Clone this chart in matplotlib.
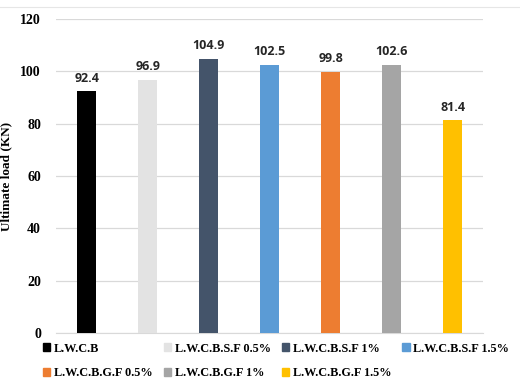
import numpy as np
from matplotlib import pyplot as plt
from matplotlib.lines import Line2D

mixes = [
    "L.W.C.B",
    "L.W.C.B.S.F 0.5%",
    "L.W.C.B.S.F 1%",
    "L.W.C.B.S.F 1.5%",
    "L.W.C.B.G.F 0.5%",
    "L.W.C.B.G.F 1%",
    "L.W.C.B.G.F 1.5%",
]
loads = [92.4, 96.9, 104.9, 102.5, 99.8, 102.6, 81.4]
colors = ["#000000", "#e3e3e3", "#44546a", "#5b9bd5", "#ed7d31", "#a5a5a5", "#ffc000"]
y_ticks = [0, 20, 40, 60, 80, 100, 120]

serif = "Liberation Serif"

fig = plt.figure(figsize=(5.2, 3.82), dpi=100)
ax = fig.add_axes([0.108, 0.128, 0.821, 0.822])

x = np.arange(len(mixes))
bars = ax.bar(x, loads, width=0.31, color=colors, zorder=3)
for b, v in zip(bars, loads):
    ax.text(b.get_x() + b.get_width() / 2, v + 2.5, f"{v:.1f}",
            ha="center", va="bottom", fontsize=9, fontweight="bold",
            family="Open Sans", color="#262626")

ax.set_xlim(-0.5, len(mixes) - 0.5)
ax.set_ylim(0, 120)
ax.set_yticks(y_ticks)
ax.set_yticklabels([str(t) for t in y_ticks], family=serif,
                   fontweight="bold", fontsize=10)
ax.set_xticks([])
ax.tick_params(axis="y", length=0, pad=11)
ax.grid(axis="y", color="#d9d9d9", linewidth=0.9, zorder=0)
for side in ["top", "right", "left"]:
    ax.spines[side].set_visible(False)
ax.spines["bottom"].set_color("#d9d9d9")
ax.set_ylabel("Ultimate load (KN)", family=serif, fontweight="bold",
              fontsize=9.5, labelpad=6)

# frame line along the top of the chart area
fig.add_artist(Line2D([0, 1], [0.982, 0.982], color="#e6e6e6",
                      linewidth=0.8, transform=fig.transFigure))

# legend reads left to right, row by row
order = [0, 4, 1, 5, 2, 6, 3]
handles = [plt.Rectangle((0, 0), 1, 1, color=c) for c in colors]
fig.legend([handles[i] for i in order], [mixes[i] for i in order],
           loc="upper left", bbox_to_anchor=(0.083, 0.103), ncol=4,
           frameon=False,
           prop={"family": serif, "weight": "bold", "size": 8.8},
           handlelength=0.6, handleheight=0.6, handletextpad=0.3,
           columnspacing=0.9, labelspacing=1.05, borderaxespad=0,
           borderpad=0)

fig.savefig("out.png", dpi=100)
